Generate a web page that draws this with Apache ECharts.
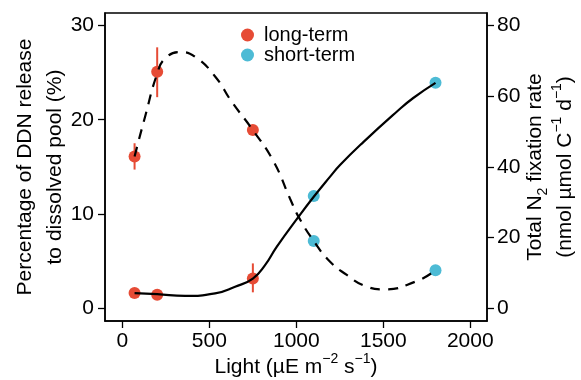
<!DOCTYPE html>
<html>
<head>
<meta charset="utf-8">
<script src="https://cdn.jsdelivr.net/npm/echarts@6/dist/echarts.min.js"></script>
<style>
  html, body { margin: 0; padding: 0; background: #fff; }
  #chart { width: 581px; height: 380px; }
</style>
</head>
<body>
<div id="chart"></div>
<script>
// measured points (light in µE m-2 s-1)
const longLight = [70, 200, 750];
const shortLight = [1100, 1800];
const longRelease = [16.1, 25.1, 18.9];   // % DDN release, left axis
const shortRelease = [7.1, 4.0];
const longFixation = [4.2, 3.7, 8.3];     // N2 fixation, right axis
const shortFixation = [31.7, 63.8];

// error bars: [light, low, high]
const releaseErrors = [[70, 14.7, 17.5], [200, 22.4, 27.7]];
const fixationErrors = [[750, 4.4, 12.6]];

// fitted curves
const releaseCurveX = [70, 130, 200, 245, 332, 418, 533, 629, 750, 868, 964, 1012, 1100, 1194, 1290, 1386, 1500, 1692, 1800];
const releaseCurveY = [16.1, 20.3, 24.9, 26.5, 27.2, 26.7, 24.6, 21.9, 18.9, 15.6, 11.6, 9.7, 7.1, 4.9, 3.5, 2.4, 1.96, 2.84, 4.0];
const fixationCurveX = [70, 200, 360, 533, 648, 750, 820, 887, 1012, 1100, 1194, 1251, 1385, 1577, 1672, 1800];
const fixationCurveY = [4.2, 3.9, 3.4, 4.1, 6.0, 8.3, 12.1, 17.3, 25.8, 31.5, 37.2, 40.5, 47.0, 55.6, 59.5, 63.8];

const xTicks = [0, 500, 1000, 1500, 2000];
const leftTicks = [0, 10, 20, 30];
const rightTicks = [0, 20, 40, 60, 80];

const RED = '#E64B35';
const CYAN = '#4DBBD5';
const FONT = '"Liberation Sans", Arial, Helvetica, sans-serif';

const zip = (xs, ys) => xs.map((x, i) => [x, ys[i]]);

const chart = echarts.init(document.getElementById('chart'));

function errorBar(color) {
  return function (params, api) {
    const top = api.coord([api.value(0), api.value(2)]);
    const bot = api.coord([api.value(0), api.value(1)]);
    return {
      type: 'line',
      shape: { x1: top[0], y1: top[1], x2: bot[0], y2: bot[1] },
      style: { stroke: color, lineWidth: 2 }
    };
  };
}

const nameRich = {
  n: { fontSize: 21, fontFamily: FONT, color: '#000', lineHeight: 30 },
  s: { fontSize: 14, fontFamily: FONT, color: '#000', verticalAlign: 'top', lineHeight: 30 },
  b: { fontSize: 14, fontFamily: FONT, color: '#000', verticalAlign: 'bottom', lineHeight: 26 }
};

const tickLabel = { color: '#000', fontSize: 21, fontFamily: FONT, formatter: v => String(v) };
const tickStyle = { show: true, inside: false, length: 7, lineStyle: { color: '#000', width: 1.3 } };
const lineStyle = { show: true, onZero: false, lineStyle: { color: '#000', width: 1.5 } };

chart.setOption({
  animation: false,
  textStyle: { fontFamily: FONT },
  grid: {
    left: 105, right: 94, top: 13, bottom: 59,
    outerBoundsMode: 'none', containLabel: false,
    show: true, borderColor: '#000', borderWidth: 1.5
  },
  legend: {
    orient: 'vertical',
    left: 236, top: 20,
    itemWidth: 13, itemHeight: 13, itemGap: 0,
    icon: 'circle',
    textStyle: { fontSize: 20, fontFamily: FONT, color: '#000', lineHeight: 19, padding: [0, 0, 0, 5] },
    data: ['long-term', 'short-term']
  },
  xAxis: {
    type: 'value',
    min: -100, max: 2096,
    name: '{n|Light (µE m}{s|−2}{n| s}{s|−1}{n|)}',
    nameLocation: 'middle',
    nameGap: 31,
    nameMoveOverlap: false,
    nameTextStyle: { rich: nameRich },
    axisLine: lineStyle,
    axisTick: Object.assign({ customValues: xTicks }, tickStyle),
    axisLabel: Object.assign({ margin: 10, customValues: xTicks }, tickLabel),
    splitLine: { show: false }
  },
  yAxis: [
    {
      type: 'value',
      min: -1.4, max: 31.35,
      name: '{n|Percentage of DDN release}\n{n|to dissolved pool (%)}',
      nameLocation: 'middle',
      nameGap: 35,
      nameMoveOverlap: false,
      nameTextStyle: { rich: nameRich },
      axisLine: lineStyle,
      axisTick: Object.assign({ customValues: leftTicks }, tickStyle),
      axisLabel: Object.assign({ margin: 11, customValues: leftTicks }, tickLabel),
      splitLine: { show: false }
    },
    {
      type: 'value',
      position: 'right',
      min: -3.73, max: 83.6,
      name: '{n|Total N}{b|2}{n| fixation rate}\n{n|(nmol µmol C}{s|−1}{n| d}{s|−1}{n|)}',
      nameLocation: 'middle',
      nameRotate: 90,
      nameGap: 33,
      nameMoveOverlap: false,
      nameTextStyle: { rich: nameRich },
      axisLine: lineStyle,
      axisTick: Object.assign({ customValues: rightTicks }, tickStyle),
      axisLabel: Object.assign({ margin: 10, customValues: rightTicks }, tickLabel),
      splitLine: { show: false }
    }
  ],
  series: [
    {
      type: 'custom', yAxisIndex: 0, z: 2,
      renderItem: errorBar(RED),
      data: releaseErrors
    },
    {
      type: 'custom', yAxisIndex: 1, z: 2,
      renderItem: errorBar(RED),
      data: fixationErrors
    },
    {
      name: 'long-term', type: 'scatter', yAxisIndex: 0, z: 3,
      symbolSize: 12, itemStyle: { color: RED, opacity: 1 },
      data: zip(longLight, longRelease)
    },
    {
      name: 'long-term', type: 'scatter', yAxisIndex: 1, z: 3,
      symbolSize: 12, itemStyle: { color: RED, opacity: 1 },
      data: zip(longLight, longFixation)
    },
    {
      name: 'short-term', type: 'scatter', yAxisIndex: 0, z: 3,
      symbolSize: 12, itemStyle: { color: CYAN, opacity: 1 },
      data: zip(shortLight, shortRelease)
    },
    {
      name: 'short-term', type: 'scatter', yAxisIndex: 1, z: 3,
      symbolSize: 12, itemStyle: { color: CYAN, opacity: 1 },
      data: zip(shortLight, shortFixation)
    },
    {
      type: 'line', yAxisIndex: 0, z: 4,
      smooth: 0.5, showSymbol: false, silent: true,
      lineStyle: { color: '#000', width: 2.2, type: [10, 8] },
      data: zip(releaseCurveX, releaseCurveY)
    },
    {
      type: 'line', yAxisIndex: 1, z: 4,
      smooth: 0.5, showSymbol: false, silent: true,
      lineStyle: { color: '#000', width: 2.2 },
      data: zip(fixationCurveX, fixationCurveY)
    }
  ]
});
</script>
</body>
</html>
